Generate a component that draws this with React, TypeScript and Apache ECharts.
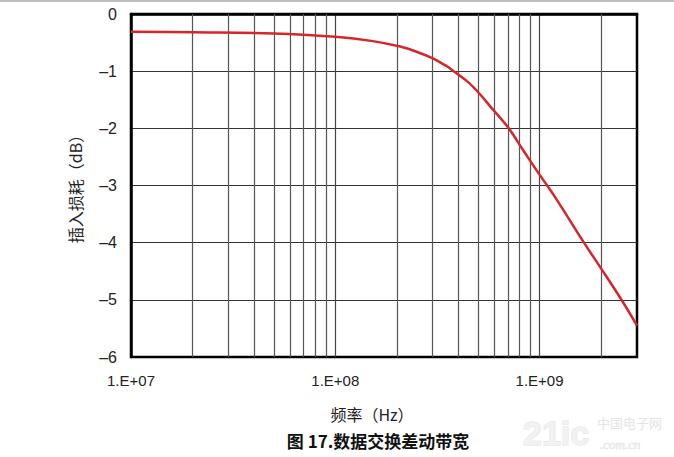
import React, { useEffect, useRef } from "react";
import * as echarts from "echarts";

const freqHz = [1e7, 2e7, 5e7, 1e8, 1.5e8, 2.08e8, 2.5e8, 3.02e8, 3.5e8, 3.8e8, 4.5e8, 5.1e8, 5.75e8, 7.07e8, 8.3e8, 1e9, 1.2e9, 1.65e9, 2e9, 2.54e9, 3e9];
const lossDb = [-0.31, -0.32, -0.34, -0.4, -0.47, -0.57, -0.66, -0.78, -0.91, -1.0, -1.2, -1.4, -1.62, -2.0, -2.38, -2.81, -3.22, -4.0, -4.45, -5.02, -5.45];
const minorGridHz = [2e7, 3e7, 4e7, 5e7, 6e7, 7e7, 8e7, 9e7, 2e8, 3e8, 4e8, 5e8, 6e8, 7e8, 8e8, 9e8, 2e9];
const xAxisTitle = "频率（Hz）";
const yAxisTitle = "插入损耗（dB）";
const chartTitle = "图 17.数据交换差动带宽";

export default function App() {
  const ref = useRef<HTMLDivElement>(null);
  useEffect(() => {
    if (!ref.current) return;
    const chart = echarts.init(ref.current, null, { renderer: "svg" });
    chart.setOption({
      animation: false,
      backgroundColor: "#fff",
      grid: { left: 131, top: 14, width: 506, height: 343, show: true, borderColor: "#000", borderWidth: 2.5, backgroundColor: "transparent" },
      xAxis: {
        type: "log",
        logBase: 10,
        min: 1e7,
        max: 3e9,
        axisLine: { show: true, lineStyle: { color: "#000", width: 2.5 } },
        axisTick: { show: false },
        axisLabel: {
          margin: 16,
          fontFamily: "Arial, Liberation Sans, sans-serif",
          fontSize: 15,
          color: "#222",
          formatter: (v: number) => {
            const e = Math.log10(v);
            if (Math.abs(e - Math.round(e)) > 1e-6) return "";
            const n = Math.round(e);
            return "1.E+" + (n < 10 ? "0" + n : String(n));
          },
        },
        splitLine: { show: true, showMinLine: false, showMaxLine: false, lineStyle: { color: "#444", width: 1.2 } },
      },
      yAxis: {
        type: "value",
        min: -6,
        max: 0,
        interval: 1,
        axisLine: { show: true, lineStyle: { color: "#000", width: 2.5 } },
        axisTick: { show: false },
        axisLabel: {
          margin: 14,
          fontFamily: "Arial, Liberation Sans, sans-serif",
          fontSize: 16,
          color: "#222",
          formatter: (v: number) => (v < 0 ? "\u2013" + Math.abs(v) : String(v)),
        },
        splitLine: { show: true, showMinLine: false, showMaxLine: false, lineStyle: { color: "#333", width: 1.2 } },
      },
      series: [
        {
          type: "line",
          data: freqHz.map((f, i) => [f, lossDb[i]]),
          smooth: 0.35,
          symbol: "none",
          lineStyle: { color: "#d6262b", width: 2.5 },
          z: 5,
          markLine: {
            silent: true,
            symbol: "none",
            label: { show: false },
            lineStyle: { color: "#555", width: 1.2, type: "solid" },
            data: minorGridHz.map((v) => ({ xAxis: v })),
            z: 1,
          },
        },
      ],
      graphic: [
        { type: "line", shape: { x1: 0, y1: 1, x2: 674, y2: 1 }, style: { stroke: "#aaa", lineWidth: 1.5 } },
        {
          type: "text",
          x: 75,
          y: 185,
          rotation: Math.PI / 2,
          style: { text: yAxisTitle, fontFamily: "Noto Sans CJK SC", fontSize: 16, fill: "#222", align: "center", verticalAlign: "middle" },
        },
        {
          type: "text",
          x: 372,
          y: 414,
          style: { text: xAxisTitle, fontFamily: "Noto Sans CJK SC", fontSize: 16, fill: "#222", align: "center", verticalAlign: "middle" },
        },
        {
          type: "text",
          x: 378,
          y: 440,
          style: { text: chartTitle, fontFamily: "Noto Sans CJK SC", fontSize: 17, fontWeight: "bold", fill: "#111", align: "center", verticalAlign: "middle" },
        },
        {
          type: "text",
          x: 523,
          y: 433,
          style: { text: "21ic", fontFamily: "Liberation Sans Narrow, Liberation Sans", fontSize: 34, fontWeight: "bold", fill: "#f2f2f2", stroke: "#e0e0e0", lineWidth: 1, align: "left", verticalAlign: "middle" },
        },
        {
          type: "text",
          x: 597,
          y: 422,
          style: { text: "中国电子网", fontFamily: "Noto Sans CJK SC", fontSize: 13, fill: "#e4e4e4", align: "left", verticalAlign: "middle" },
        },
        {
          type: "text",
          x: 600,
          y: 444,
          style: { text: ".com.cn", fontFamily: "Liberation Serif", fontSize: 13, fontStyle: "italic", fill: "#ececec", stroke: "#e0e0e0", lineWidth: 0.5, align: "left", verticalAlign: "middle" },
        },
      ],
    });
    return () => chart.dispose();
  }, []);
  return <div ref={ref} style={{ position: "fixed", left: 0, top: 0, width: 674, height: 457 }} />;
}
